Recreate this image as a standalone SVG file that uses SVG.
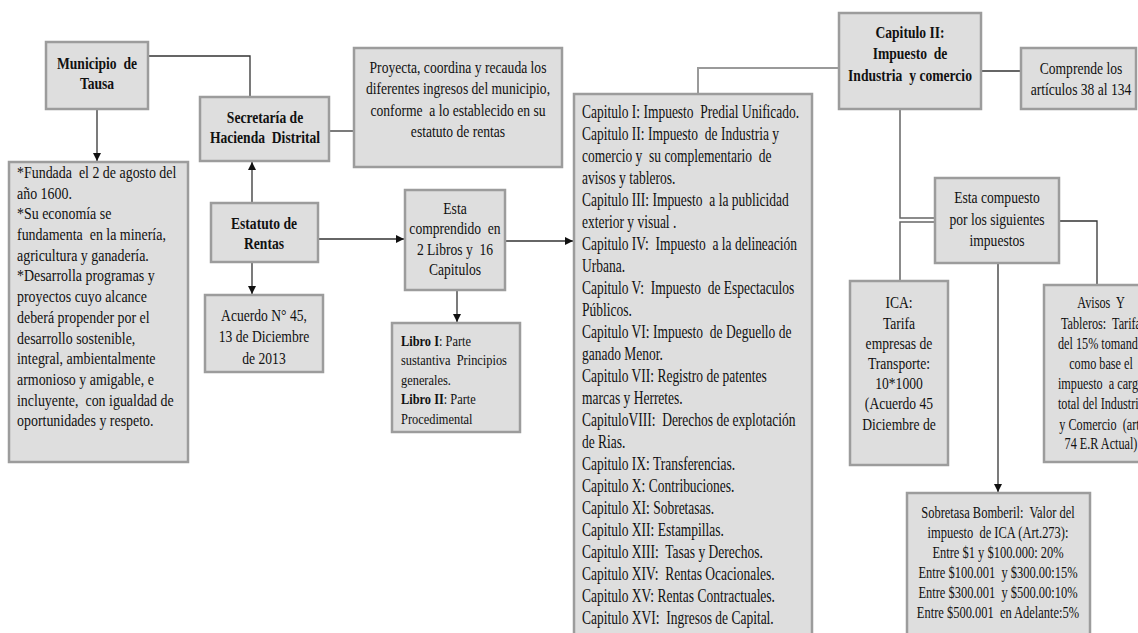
<svg xmlns="http://www.w3.org/2000/svg" width="1138" height="633" viewBox="0 0 1138 633">
<defs>
<marker id="ah" markerUnits="userSpaceOnUse" markerWidth="9" markerHeight="9" refX="8" refY="4" orient="auto"><path d="M0,0 L8,4 L0,8 z" fill="#111"/></marker>
<style>
.b{fill:#dedede;stroke:#9c9c9c;stroke-width:2.5}
.t{font-family:"Liberation Serif","Times New Roman",serif;font-size:17px;fill:#111;white-space:pre}
.c{text-anchor:middle}
.bd{font-weight:bold}
.l{fill:none;stroke:#333;stroke-width:1.3}
.g{fill:none;stroke:#9a9a9a;stroke-width:2}
.m{fill:none;stroke:#666;stroke-width:1.5}
</style>
</defs>
<rect width="1138" height="633" fill="#fff"/>
<g id="connectors">
<path class="l" d="M148,56 H250 V97"/>
<path class="l" d="M97,110 V161" marker-end="url(#ah)"/>
<path class="l" d="M329,131 H354"/>
<path class="l" d="M252,203 V162" marker-end="url(#ah)"/>
<path class="l" d="M252,262 V294" marker-end="url(#ah)"/>
<path class="l" d="M318,239 H404" marker-end="url(#ah)"/>
<path class="l" d="M505,241 H573" marker-end="url(#ah)"/>
<path class="l" d="M457,290 V322" marker-end="url(#ah)"/>
<path class="g" d="M698,94 V68 H839"/>
<path class="l" d="M981,71 H1021"/>
<path class="m" d="M900,110 V218 H935"/>
<path class="m" d="M935,222 H900 V281"/>
<path class="l" d="M1059,221 H1097 V285"/>
<path class="l" d="M998,263 V492" marker-end="url(#ah)"/>
</g>
<g id="municipio">
<rect class="b" x="46" y="42" width="102" height="67"/>
<text class="t bd c" transform="translate(97 0) scale(0.8 1)"><tspan x="0" y="69">Municipio  de</tspan><tspan x="0" y="89">Tausa</tspan></text>
</g>
<g id="fundada">
<rect class="b" x="9" y="162" width="179" height="300"/>
<text class="t" transform="translate(17 0) scale(0.82 1)"><tspan x="0" y="178">*Fundada  el 2 de agosto del</tspan><tspan x="0" y="198.7">año 1600.</tspan><tspan x="0" y="219.4">*Su economía se</tspan><tspan x="0" y="240.1">fundamenta  en la minería,</tspan><tspan x="0" y="260.8">agricultura y ganadería.</tspan><tspan x="0" y="281.5">*Desarrolla programas y</tspan><tspan x="0" y="302.2">proyectos cuyo alcance</tspan><tspan x="0" y="322.9">deberá propender por el</tspan><tspan x="0" y="343.6">desarrollo sostenible,</tspan><tspan x="0" y="364.3">integral, ambientalmente</tspan><tspan x="0" y="385">armonioso y amigable, e</tspan><tspan x="0" y="405.7">incluyente,  con igualdad de</tspan><tspan x="0" y="426.4">oportunidades y respeto.</tspan></text>
</g>
<g id="secretaria">
<rect class="b" x="200" y="97" width="129" height="64"/>
<text class="t bd c" transform="translate(265 0) scale(0.8 1)"><tspan x="0" y="123">Secretaría de</tspan><tspan x="0" y="143">Hacienda  Distrital</tspan></text>
</g>
<g id="proyecta">
<rect class="b" x="354" y="48" width="208" height="119"/>
<text class="t c" transform="translate(458 0) scale(0.8 1)"><tspan x="0" y="73">Proyecta, coordina y recauda los</tspan><tspan x="0" y="94.5">diferentes ingresos del municipio,</tspan><tspan x="0" y="116">conforme  a lo establecido en su</tspan><tspan x="0" y="137.5">estatuto de rentas</tspan></text>
</g>
<g id="estatuto">
<rect class="b" x="211" y="203" width="107" height="59"/>
<text class="t bd c" transform="translate(264 0) scale(0.8 1)"><tspan x="0" y="229">Estatuto de</tspan><tspan x="0" y="249">Rentas</tspan></text>
</g>
<g id="acuerdo">
<rect class="b" x="205" y="295" width="118" height="77"/>
<text class="t c" transform="translate(264 0) scale(0.8 1)"><tspan x="0" y="321">Acuerdo N° 45,</tspan><tspan x="0" y="342.5">13 de Diciembre</tspan><tspan x="0" y="364">de 2013</tspan></text>
</g>
<g id="esta">
<rect class="b" x="405" y="190" width="100" height="100"/>
<text class="t c" transform="translate(455 0) scale(0.8 1)"><tspan x="0" y="214">Esta</tspan><tspan x="0" y="234.5">comprendido  en</tspan><tspan x="0" y="255">2 Libros y  16</tspan><tspan x="0" y="275.5">Capitulos</tspan></text>
</g>
<g id="libro">
<rect class="b" x="392" y="323" width="128" height="109"/>
<text class="t" style="font-size:15.5px" transform="translate(401 0) scale(0.8 1)"><tspan x="0" y="346"><tspan class="bd">Libro I</tspan>: Parte</tspan><tspan x="0" y="365.5">sustantiva  Principios</tspan><tspan x="0" y="385">generales.</tspan><tspan x="0" y="404.5"><tspan class="bd">Libro II</tspan>: Parte</tspan><tspan x="0" y="424">Procedimental</tspan></text>
</g>
<g id="capitulos">
<rect class="b" x="574" y="94" width="238" height="550"/>
<text class="t" style="font-size:18px" transform="translate(582 0) scale(0.75 1)"><tspan x="0" y="118">Capitulo I: Impuesto  Predial Unificado.</tspan><tspan x="0" y="140">Capitulo II: Impuesto  de Industria y</tspan><tspan x="0" y="162">comercio y  su complementario  de</tspan><tspan x="0" y="184">avisos y tableros.</tspan><tspan x="0" y="206">Capitulo III: Impuesto  a la publicidad</tspan><tspan x="0" y="228">exterior y visual .</tspan><tspan x="0" y="250">Capitulo IV:  Impuesto  a la delineación</tspan><tspan x="0" y="272">Urbana.</tspan><tspan x="0" y="294">Capitulo V:  Impuesto  de Espectaculos</tspan><tspan x="0" y="316">Públicos.</tspan><tspan x="0" y="338">Capitulo VI: Impuesto  de Deguello de</tspan><tspan x="0" y="360">ganado Menor.</tspan><tspan x="0" y="382">Capitulo VII: Registro de patentes</tspan><tspan x="0" y="404">marcas y Herretes.</tspan><tspan x="0" y="426">CapituloVIII:  Derechos de explotación</tspan><tspan x="0" y="448">de Rias.</tspan><tspan x="0" y="470">Capitulo IX: Transferencias.</tspan><tspan x="0" y="492">Capitulo X: Contribuciones.</tspan><tspan x="0" y="514">Capitulo XI: Sobretasas.</tspan><tspan x="0" y="536">Capitulo XII: Estampillas.</tspan><tspan x="0" y="558">Capitulo XIII:  Tasas y Derechos.</tspan><tspan x="0" y="580">Capitulo XIV:  Rentas Ocacionales.</tspan><tspan x="0" y="602">Capitulo XV: Rentas Contractuales.</tspan><tspan x="0" y="624">Capitulo XVI:  Ingresos de Capital.</tspan></text>
</g>
<g id="capitulo2">
<rect class="b" x="839" y="13" width="142" height="96"/>
<text class="t bd c" transform="translate(910 0) scale(0.8 1)"><tspan x="0" y="38">Capitulo II:</tspan><tspan x="0" y="59">Impuesto  de</tspan><tspan x="0" y="81">Industria  y comercio</tspan></text>
</g>
<g id="comprende">
<rect class="b" x="1021" y="48" width="115" height="61"/>
<text class="t c" transform="translate(1081 0) scale(0.8 1)"><tspan x="0" y="74">Comprende los</tspan><tspan x="0" y="95">artículos 38 al 134</tspan></text>
</g>
<g id="compuesto">
<rect class="b" x="935" y="178" width="124" height="85"/>
<text class="t c" transform="translate(997 0) scale(0.8 1)"><tspan x="0" y="203">Esta compuesto</tspan><tspan x="0" y="225">por los siguientes</tspan><tspan x="0" y="246">impuestos</tspan></text>
</g>
<g id="ica">
<rect class="b" x="850" y="281" width="98" height="184"/>
<text class="t c" transform="translate(899 0) scale(0.8 1)"><tspan x="0" y="308">ICA:</tspan><tspan x="0" y="329">Tarifa</tspan><tspan x="0" y="349">empresas de</tspan><tspan x="0" y="369">Transporte:</tspan><tspan x="0" y="389">10*1000</tspan><tspan x="0" y="409">(Acuerdo 45</tspan><tspan x="0" y="430">Diciembre de</tspan></text>
</g>
<g id="avisos">
<rect class="b" x="1044" y="285" width="118" height="177"/>
<text class="t c" style="font-size:16.5px" transform="translate(1101 0) scale(0.74 1)"><tspan x="0" y="308">Avisos  Y</tspan><tspan x="0" y="329">Tableros:  Tarifa</tspan><tspan x="0" y="349">del 15% tomando</tspan><tspan x="0" y="369">como base el</tspan><tspan x="0" y="389">impuesto  a cargo</tspan><tspan x="0" y="409">total del Industria</tspan><tspan x="0" y="430">y Comercio  (art.</tspan><tspan x="0" y="449">74 E.R Actual)</tspan></text>
</g>
<g id="sobretasa">
<rect class="b" x="907" y="493" width="183" height="150"/>
<text class="t c" style="font-size:16px" transform="translate(998 0) scale(0.78 1)"><tspan x="0" y="518">Sobretasa Bomberil:  Valor del</tspan><tspan x="0" y="538">impuesto  de ICA (Art.273):</tspan><tspan x="0" y="558">Entre $1 y $100.000: 20%</tspan><tspan x="0" y="578">Entre $100.001  y $300.00:15%</tspan><tspan x="0" y="598">Entre $300.001  y $500.00:10%</tspan><tspan x="0" y="618">Entre $500.001  en Adelante:5%</tspan></text>
</g>
</svg>
